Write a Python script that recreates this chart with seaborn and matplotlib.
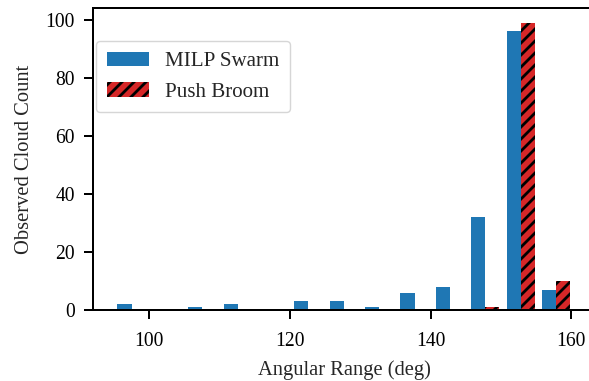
import numpy as np
import pandas as pd
import matplotlib
matplotlib.use("Agg")
import matplotlib.pyplot as plt
import seaborn as sns

# bin centres (deg) and counts per method
bin_centers = [97.47, 102.50, 107.53, 112.56, 117.59, 122.62, 127.65,
               132.68, 137.71, 142.74, 147.77, 152.80, 157.83]
milp_counts = [2, 0, 1, 2, 0, 3, 3, 1, 6, 8, 32, 96, 7]
push_counts = [0, 0, 0, 0, 0, 0, 0, 0, 0, 0, 1, 99, 10]
methods = ["MILP Swarm", "Push Broom"]
colors = ["#1f77b4", "#d62728"]

df = pd.DataFrame({
    "angle": bin_centers * 2,
    "count": milp_counts + push_counts,
    "method": [methods[0]] * len(bin_centers) + [methods[1]] * len(bin_centers),
})

sns.set_style("ticks")
plt.rcParams["font.family"] = ["Liberation Serif", "DejaVu Serif"]
plt.rcParams["hatch.color"] = "black"
plt.rcParams["hatch.linewidth"] = 2.8

# dpi 72 so 1pt == 1px
fig = plt.figure(figsize=(589 / 72, 381 / 72), dpi=72)
ax = fig.add_axes([0.158, 0.186, 0.855, 0.793])

sns.barplot(data=df, x="angle", y="count", hue="method", hue_order=methods,
            palette=colors, native_scale=True, width=0.8, dodge=True,
            linewidth=0, saturation=1, errorbar=None, ax=ax)


def hatch_it(p):
    p.set_hatch("//")
    p.set_edgecolor("black")
    p.set_linewidth(0)
    if hasattr(p, "set_hatchcolor"):
        p.set_hatchcolor("black")


# hatch the push broom bars
for p in ax.containers[1]:
    hatch_it(p)

ax.set_xlim(92.0, 163.6)
ax.set_ylim(0, 104)
ax.set_xticks([100, 120, 140, 160])
ax.set_yticks([0, 20, 40, 60, 80, 100])
ax.tick_params(labelsize=19.5, length=9, width=2, pad=9, colors="black")
ax.tick_params(axis="x", pad=13)
for s in ax.spines.values():
    s.set_linewidth(2)
    s.set_color("black")

ax.set_xlabel("Angular Range (deg)", fontsize=20.5, labelpad=9)
ax.set_ylabel("Observed Cloud Count", fontsize=20.5, labelpad=12)

leg = ax.legend(loc="upper left", bbox_to_anchor=(0.006, 0.89), borderaxespad=0,
                fontsize=21, frameon=True, fancybox=True, borderpad=0.5)
leg.get_frame().set_linewidth(1.4)
hatch_it(leg.legend_handles[1])

fig.savefig("out.png", dpi=72)
